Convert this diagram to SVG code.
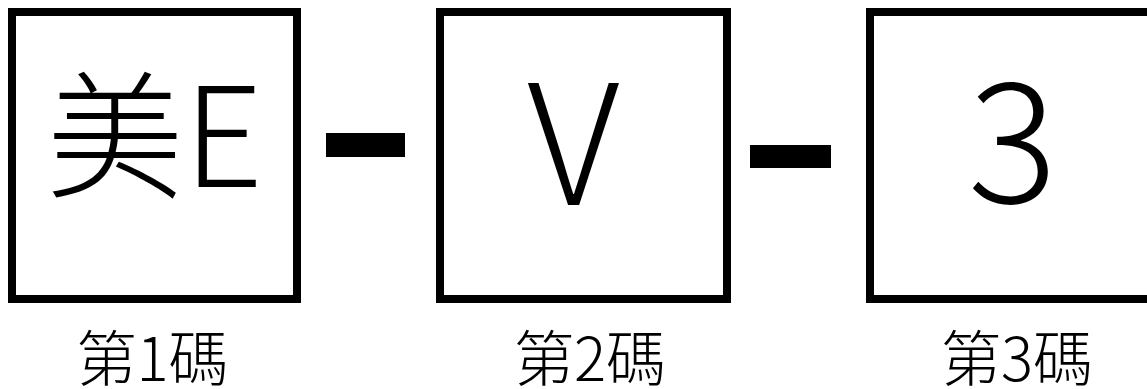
<svg xmlns="http://www.w3.org/2000/svg" width="1147" height="389" viewBox="0 0 1147 389">
<style>
.box{fill:#fff;stroke:#000;stroke-width:8}
.big{font-family:"Noto Sans CJK TC","Noto Sans",sans-serif;font-weight:300;font-size:138px;fill:#000;text-anchor:middle}
.big2{font-family:"Noto Sans CJK TC","Noto Sans",sans-serif;font-weight:300;font-size:168px;fill:#000;text-anchor:middle}
.lbl{font-family:"Noto Sans CJK TC","Noto Sans",sans-serif;font-weight:300;font-size:60px;fill:#000;text-anchor:middle}
</style>
<rect width="1147" height="389" fill="#fff"/>
<g id="connectors">
<rect x="326" y="133" width="79" height="24" fill="#000"/>
<rect x="750" y="145" width="81" height="23" fill="#000"/>
</g>
<g id="node1">
<rect class="box" x="12" y="12" width="285" height="287"/>
<text class="big" x="154.5" y="187">美E</text>
<text class="lbl" x="152.5" y="381">第1碼</text>
</g>
<g id="node2">
<rect class="box" x="440" y="12" width="287" height="287"/>
<text class="big2" x="573.5" y="205">V</text>
<text class="lbl" x="590" y="381">第2碼</text>
</g>
<g id="node3">
<rect class="box" x="870" y="12" width="287" height="287"/>
<text class="big2" x="1012.5" y="203">3</text>
<text class="lbl" x="1017" y="381">第3碼</text>
</g>
</svg>
